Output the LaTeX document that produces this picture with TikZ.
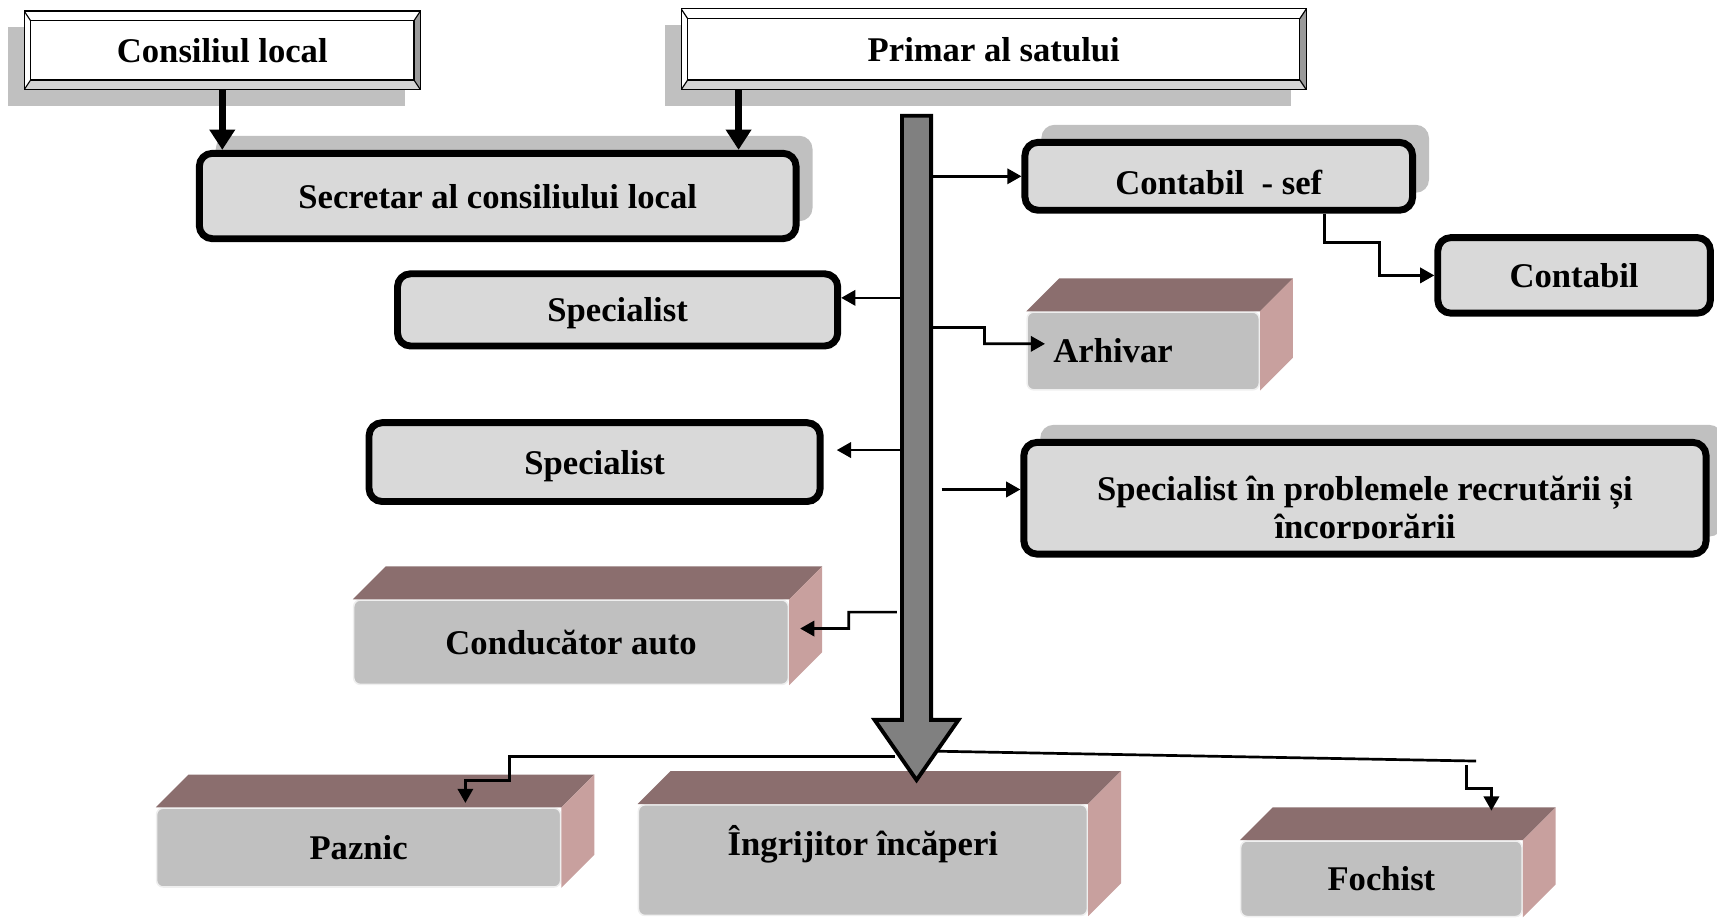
\documentclass[tikz,border=0pt]{standalone}
\usepackage{fontspec}
\setmainfont{Liberation Serif}
\usepackage{xcolor}
\usepackage{tikz}
\usetikzlibrary{arrows.meta,shadows}

\definecolor{shadowgray}{HTML}{C0C0C0}
\definecolor{boxgray}{HTML}{D9D9D9}
\definecolor{frontgray}{HTML}{C0C0C0}
\definecolor{topbrown}{HTML}{8B6E6E}
\definecolor{sidepink}{HTML}{C8A09E}
\definecolor{trunkgray}{HTML}{808080}
\definecolor{bevelgray}{HTML}{9A9A9A}
\definecolor{bevellight}{HTML}{D4D4D4}

\begin{document}
\begin{tikzpicture}[
    x=0.2mm, y=-0.2mm,
    every node/.style={font=\fontsize{18}{20}\selectfont\bfseries, inner sep=0pt},
    bevelframe/.style={path picture={
        \coordinate (bb-nw) at (path picture bounding box.north west);
        \coordinate (bb-ne) at (path picture bounding box.north east);
        \coordinate (bb-sw) at (path picture bounding box.south west);
        \coordinate (bb-se) at (path picture bounding box.south east);
        \fill[bevelgray] (bb-ne) -- (bb-se) -- ([shift={(-1.2mm,1.8mm)}]bb-se) -- ([shift={(-1.2mm,-1.8mm)}]bb-ne) -- cycle;
        \fill[bevellight] (bb-sw) -- (bb-se) -- ([shift={(-1.2mm,1.8mm)}]bb-se) -- ([shift={(1.2mm,1.8mm)}]bb-sw) -- cycle;
        \draw[line width=0.6pt] ([shift={(1.2mm,-1.8mm)}]bb-nw) rectangle ([shift={(-1.2mm,1.8mm)}]bb-se);
        \draw[line width=0.6pt] (bb-nw) -- ++(1.2mm,-1.8mm) (bb-ne) -- ++(-1.2mm,-1.8mm)
            (bb-sw) -- ++(1.2mm,1.8mm) (bb-se) -- ++(-1.2mm,1.8mm);
    }},
    headbox/.style={rectangle, draw, line width=0.6pt, fill=white, bevelframe, general shadow={fill=shadowgray, shadow xshift=-2.9mm, shadow yshift=-2.9mm}},
    roundbox/.style={rectangle, rounded corners=2.4mm, draw, line width=3.6pt, fill=boxgray, text depth=0pt},
    shadowbox/.style={roundbox, general shadow={fill=shadowgray, shadow xshift=3mm, shadow yshift=3.2mm}},
    facefront/.style={rectangle, rounded corners=1.2mm, fill=frontgray, draw=white!75!frontgray, line width=0.8pt},
    topface/.style={fill=topbrown},
    sideface/.style={fill=sidepink},
    trunkshape/.style={draw, fill=trunkgray, line width=2pt},
    thickarrow/.style={-{Triangle[length=3.7mm,width=4.5mm]}, line width=3.5pt},
    link/.style={-{Triangle[length=2.6mm,width=2.8mm]}, line width=1.4pt},
    branch/.style={line width=1.4pt}
]
\useasboundingbox (0,0) rectangle (1568,838);

% Leadership
\node[headbox, minimum width=72.4mm, minimum height=14.4mm] (consiliul) at (203,46) {Consiliul local};
\node[headbox, minimum width=114.2mm, minimum height=14.8mm] (primar) at (907.5,45) {Primar al satului};
\node[shadowbox, minimum width=109mm, minimum height=15.6mm] (secretar) at (454.5,179) {Secretar al consiliului local};

% Staff boxes
\node[shadowbox, minimum width=70.8mm, minimum height=12.4mm] (contsef) at (1113,161) {};
\node[roundbox, minimum width=49.8mm, minimum height=13.8mm] (contabil) at (1437.5,251.5) {Contabil};
\node[roundbox, minimum width=80.4mm, minimum height=13.2mm] (spec1) at (564,283) {Specialist};
\node[roundbox, minimum width=82.4mm, minimum height=14.4mm] (spec2) at (543,422) {Specialist};
\node[shadowbox, minimum width=124.6mm, minimum height=20.4mm] (specrec) at (1246.5,455) {};

% Clipped labels
\begin{scope}
  \clip (contsef.north west) rectangle ([yshift=3.4mm]contsef.south east);
  \node[anchor=base] (contsef-text) at (1113,178) {Contabil\ \ - sef};
\end{scope}
\begin{scope}
  \clip (specrec.north west) rectangle ([yshift=3.4mm]specrec.south east);
  \node[anchor=base] (specrec-l1) at (1246.5,457) {Specialist în problemele recrutării și};
  \node[anchor=base] (specrec-l2) at (1246.5,492) {încorporării};
\end{scope}

% Solid blocks
\node[facefront, minimum width=42.4mm, minimum height=14.2mm, text width=32.8mm, inner xsep=4.8mm, align=left] (arhivar) at (1044,320.5) {Arhivar};
\node[facefront, minimum width=79.4mm, minimum height=15.4mm] (conducator) at (521.5,586.5) {Conducător auto};
\node[facefront, minimum width=73.8mm, minimum height=14.4mm] (paznic) at (327.5,774) {Paznic};
\node[facefront, minimum width=82mm, minimum height=20.2mm, text height=5mm, text depth=6.8mm] (ingrijitor) at (788,785.5) {Îngrijitor încăperi};
\node[facefront, minimum width=51.4mm, minimum height=13.8mm] (fochist) at (1261.5,802.5) {Fochist};

\fill[topface] (arhivar.north west) -- ++(6mm,6mm) -- ([shift={(6mm,6mm)}]arhivar.north east) -- (arhivar.north east) -- cycle;
\fill[sideface] (arhivar.north east) -- ++(6mm,6mm) -- ([shift={(6mm,6mm)}]arhivar.south east) -- (arhivar.south east) -- cycle;
\fill[topface] (conducator.north west) -- ++(6mm,6mm) -- ([shift={(6mm,6mm)}]conducator.north east) -- (conducator.north east) -- cycle;
\fill[sideface] (conducator.north east) -- ++(6mm,6mm) -- ([shift={(6mm,6mm)}]conducator.south east) -- (conducator.south east) -- cycle;
\fill[topface] (paznic.north west) -- ++(6mm,6mm) -- ([shift={(6mm,6mm)}]paznic.north east) -- (paznic.north east) -- cycle;
\fill[sideface] (paznic.north east) -- ++(6mm,6mm) -- ([shift={(6mm,6mm)}]paznic.south east) -- (paznic.south east) -- cycle;
\fill[topface] (ingrijitor.north west) -- ++(6mm,6mm) -- ([shift={(6mm,6mm)}]ingrijitor.north east) -- (ingrijitor.north east) -- cycle;
\fill[sideface] (ingrijitor.north east) -- ++(6mm,6mm) -- ([shift={(6mm,6mm)}]ingrijitor.south east) -- (ingrijitor.south east) -- cycle;
\fill[topface] (fochist.north west) -- ++(6mm,6mm) -- ([shift={(6mm,6mm)}]fochist.north east) -- (fochist.north east) -- cycle;
\fill[sideface] (fochist.north east) -- ++(6mm,6mm) -- ([shift={(6mm,6mm)}]fochist.south east) -- (fochist.south east) -- cycle;

% Main trunk
\node[minimum width=5.2mm, minimum height=110.2mm] (trunk) at (837,381.5) {};
\draw[trunkshape] (trunk.north west) -- (trunk.north east) -- (trunk.south east) -- ++(5mm,0)
    -- ([yshift=-11mm]trunk.south) -- ([xshift=-5mm]trunk.south west) -- (trunk.south west) -- cycle;

% Branch points
\coordinate (primar-out) at ([xshift=10.6mm]primar.south west);
\coordinate (contsef-out) at ([xshift=55.4mm]contsef.south west);
\coordinate (br-contsef) at (850,161);
\coordinate (br-spec1) at (824,272);
\coordinate (br-spec2) at (824,411);
\coordinate (br-arh) at (850,299);
\coordinate (br-specrec) at (860,447);
\coordinate (br-cond) at (819,559);
\coordinate (br-paz) at (817,691);
\coordinate (br-foc) at (855,686);
\coordinate (fork-foc) at (1348,695);

% Arrows
\draw[thickarrow] (consiliul.south) -- (consiliul.south |- secretar.north);
\draw[thickarrow] (primar-out) -- (primar-out |- secretar.north);
\draw[link] (br-contsef) -- (contsef.west);
\draw[link] (contsef-out) -- ++(0,-5.2mm) -- ++(10mm,0) |- (contabil.west);
\draw[link] (br-spec1) -- (br-spec1 -| spec1.east);
\draw[link] (br-spec2) -- ([xshift=2.4mm]br-spec2 -| spec2.east);
\draw[link] (br-arh) -- ++(9.8mm,0) -- ++(0,-3mm) -- ([xshift=3.4mm,yshift=1.3mm]arhivar.west);
\draw[link] (br-specrec) -- (br-specrec -| specrec.west);
\draw[link] (br-cond) -- ++(-8.8mm,0) -- ++(0,-3mm) -- ([xshift=2mm,yshift=2.5mm]conducator.east);
\draw[link] (br-paz) -- ++(-70.4mm,0) -- ++(0,-4.4mm) -| ([xshift=19.5mm,yshift=0.8mm]paznic.north);
\draw[branch] (br-foc) -- (fork-foc);
\draw[link] ([xshift=-1.8mm,yshift=-0.8mm]fork-foc) -- ++(0,-4.2mm) -| ([xshift=20.1mm,yshift=5.4mm]fochist.north);

\end{tikzpicture}
\end{document}
